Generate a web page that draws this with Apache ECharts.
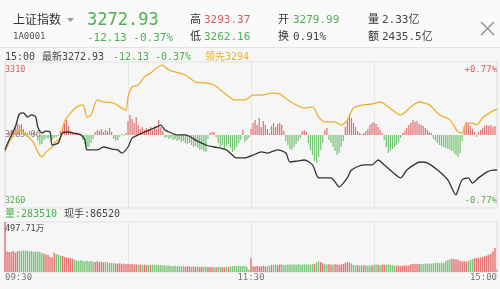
<!DOCTYPE html>
<html><head><meta charset="utf-8">
<script src="https://cdn.jsdelivr.net/npm/echarts@6/dist/echarts.min.js"></script>
<style>html,body{margin:0;padding:0;background:#f6f6f6}#c{width:500px;height:289px}</style>
</head><body><div id="c"></div>
<script>
// ---------- data ----------
const prevClose = 3285.06;
const rangePct = 0.0077;
const priceMinutes = [0,2,5,7,9,11,13,15,16,18,20,22,23,26,28,31,33,37,39,40,45,48,52,55,57,60,62,65,69,73,76,78,80,84,88,93,98,102,108,113,117,121,125,128,133,137,139,143,146,150,153,156,159,161,163,167,169,175,179,182,185,189,193,196,201,203,206,211,216,220,221,223,226,228,231,235,238,240];
const priceValues = [3279.99,3283.3,3287.8,3292.3,3292.7,3291.3,3292.0,3291.3,3287.8,3285.8,3286.4,3286.1,3281.6,3282.3,3285.8,3286.1,3285.8,3285.1,3283.3,3279.9,3279.9,3280.9,3280.2,3279.9,3278.8,3280.9,3284.0,3285.1,3286.4,3287.5,3288.5,3286.8,3286.1,3285.1,3285.1,3283.3,3281.6,3280.9,3279.9,3277.1,3277.1,3278.1,3279.2,3278.8,3279.9,3278.8,3275.7,3276.1,3276.4,3274.7,3270.2,3270.2,3270.2,3268.8,3267.1,3270.2,3272.9,3274.7,3274.7,3276.4,3274.7,3272.2,3270.2,3272.9,3275.4,3275.7,3275.4,3272.9,3269.5,3264.3,3266.0,3269.5,3270.2,3268.4,3270.2,3272.2,3272.9,3272.93];
const leadMinutes = [0,2,5,7,10,12,14,16,18,20,23,24,27,29,32,35,38,39,40,42,45,48,53,56,59,60,62,65,68,71,74,77,78,80,83,88,93,98,102,107,112,117,121,125,130,134,138,142,146,150,153,156,161,164,167,170,175,179,183,187,193,198,202,207,212,217,221,223,225,228,230,233,238,240];
const leadValues = [3279.2,3282.6,3285.8,3286.8,3285.1,3284.0,3282.3,3279.2,3277.4,3279.2,3280.9,3282.3,3284.0,3289.6,3292.7,3294.8,3295.5,3293.7,3291.3,3292.0,3297.2,3296.5,3296.1,3294.8,3293.7,3298.2,3301.7,3302.4,3305.2,3306.5,3308.3,3309.3,3308.6,3307.6,3306.9,3305.8,3303.4,3303.1,3302.4,3299.6,3297.2,3297.2,3298.9,3298.9,3299.6,3299.3,3297.2,3295.5,3294.4,3294.8,3291.3,3289.6,3289.6,3288.5,3290.3,3294.4,3295.5,3295.8,3296.5,3294.8,3292.0,3294.8,3296.5,3295.5,3292.0,3290.3,3286.1,3285.8,3289.2,3289.2,3288.5,3291.0,3293.4,3294.0];
const diffValues = [
 0,2,3,4,5, 8,12,10,11,6, 3,2,4,2,3,1, -6,-10,-9,-5, -3,-4,-2,-5,-3,-2,-1,
 4,8,12,15,9, 4,3,2,3,2,1, -5,-9,-13,-12,-8,-4, 3,5,4,6,3,5,4, 7,3, -4,-6,-5,-2, 1,-1,2,
 14,20,16,12,18, 10,6,8,5,7,6,8,5,9,6,15, 8,4, -3,-2,-4,-3,-5,-4,-6,
 -5,-7,-6,-8,-9,-8,-10,-12,-11,-13,-15,-14,-16,-17, -4,2, 3,3,-2,
 -8,-12,-10,-14,-11,-9,-13,-17,-15,-12,-8,-5, 5, -7,-5,-3,
 6,12,15,10,17,8,14,10,6, 2, 9,12,8,11,12,10,4, -6,-10,-14,-15,-12,-9,-6,-3, 4,5,3,
 -8,-15,-20,-26,-28,-22,-15,-8, 5,7, -5,-8,-12,-16,-20,-18,-12,-6,
 8,14,20,17,12,8,4, 2,1,2, 4,6,10,12,13,11,8,5,2, -5,-12,-18,-16,-14,-12,-10,-7,-3,
 2,4,7,10,12,15,13,14,11,10,9,7,5,3,2, -4,-6,-8,-10,-11,-12,-13,-14,-15,-16,-18,-20,-22,-18,-6,
 8,13,11,9,6,3,-2, 3,5,7,9,10,9,10,8,9,0];
const volValues = [497.71,
 205,200,198,210,195,205,212,208,215,
 210,214,205,208,200,206,198,202,190,185,
 172,168,150,145,195,178,172,165,160,150,
 145,140,138,132,120,115,112,118,110,108,
 112,105,110,103,100,106,98,102,96,100,
 95,90,92,88,85,82,86,80,84,78,
 80,76,82,74,78,72,75,70,73,68,
 72,70,74,68,71,66,70,65,68,62,
 64,60,58,62,56,58,55,60,54,57,
 55,52,56,50,54,48,52,50,55,49,
 52,48,50,46,53,49,51,47,52,50,
 55,58,60,56,62,58,63,60,52,23,
 139,58,55,60,54,57,62,56,60,58,
 70,72,75,68,74,76,70,73,75,72,
 74,76,72,78,75,73,77,74,76,72,
 78,80,95,106,100,88,76,74,78,72,
 75,78,74,72,76,80,92,100,96,84,
 70,66,68,64,67,65,68,63,66,64,
 72,75,73,70,74,71,73,76,72,70,
 65,62,64,60,63,66,62,64,78,80,
 82,79,83,80,78,84,81,85,82,88,
 90,92,88,94,90,110,118,126,133,130,
 128,122,110,106,108,104,110,120,130,136,
 139,142,145,150,158,165,172,180,205,239,23];
const volColors = "rrrrrrrggg"+"gggggggggr"+"rrrrrgggrr"+"rrrrgggggg"+"ggggrrrrrg"+"ggggrrrrrr"+"rrrrrgrgrr"+"grgggggggg"+"ggggggggrr"+"rgrrgrrggr"+"rrgrggrrgr"+"gggggggggg"+"rrrrrrrrgg"+"rggrrggggg"+"gggggggggg"+"grggrrggrr"+"grrrrrrrrg"+"ggrggrgggr"+"ggrgrrgggg"+"grrrrrrrrr"+"rrrggggggg"+"ggggggggrr"+"rrrrrrgggr"+"rrrrrrrrrr"+"g";
const timeTicks = [0,120,240];
const timeLabels = ["09:30","11:30","15:00"];
const volMaxLabel = "497.71万";

// ---------- style ----------
const MONO = '"DejaVu Sans Mono","Noto Sans CJK SC",monospace';
const RED = '#e05a5a', GREEN = '#4caf50', DARK = '#444', GRAY = '#888';
const BARRED = '#e07070', BARGREEN = '#72c272';
const VOLRED = '#e27272', VOLGREEN = '#78c478';
const ORANGE = '#efb030';
const lo = prevClose * (1 - rangePct), hi = prevClose * (1 + rangePct);

const chart = echarts.init(document.getElementById('c'), null, {renderer:'canvas'});
const option = {
  animation:false,
  backgroundColor:'#f6f6f6',
  grid:[
    {left:5,right:3,top:62,height:146,show:true,borderColor:'#e2e2e2',borderWidth:1,backgroundColor:'transparent'},
    {left:5,right:3,top:222,height:50,show:true,borderColor:'#e2e2e2',borderWidth:1,backgroundColor:'transparent'}
  ],
  xAxis:[
    {type:'value',gridIndex:0,min:0,max:240,interval:60,axisLine:{show:false},axisTick:{show:false},axisLabel:{show:false},splitLine:{show:true,lineStyle:{color:'#e6e6e6',width:1}}},
    {type:'value',gridIndex:1,min:0,max:240,interval:60,axisLine:{show:false},axisTick:{show:false},axisLabel:{show:false},splitLine:{show:true,lineStyle:{color:'#e6e6e6',width:1}}}
  ],
  yAxis:[
    {type:'value',gridIndex:0,min:lo,max:hi,show:false},
    {type:'value',gridIndex:0,min:-73,max:73,show:false},
    {type:'value',gridIndex:1,min:0,max:497.71,show:false}
  ],
  series:[
    {type:'bar',xAxisIndex:0,yAxisIndex:1,barWidth:1.2,z:2,
     data:diffValues.map((v,i)=>[i,v]),
     itemStyle:{color:p=>p.value[1]>=0?BARRED:BARGREEN}},
    {type:'line',xAxisIndex:0,yAxisIndex:0,z:3,symbol:'none',smooth:0.25,
     data:leadMinutes.map((m,k)=>[m,leadValues[k]]),
     lineStyle:{color:ORANGE,width:1.3}},
    {type:'line',xAxisIndex:0,yAxisIndex:0,z:4,symbol:'none',smooth:0.25,
     data:priceMinutes.map((m,k)=>[m,priceValues[k]]),
     lineStyle:{color:'#333',width:1.3}},
    {type:'bar',xAxisIndex:1,yAxisIndex:2,barWidth:1.4,
     data:volValues.map((v,i)=>({value:[i,v],itemStyle:{color:volColors[i]==='r'?VOLRED:VOLGREEN}}))}
  ]
};
chart.setOption(option);

function T(text,x,y,size,fill,align,z){
  return {type:'text',z:z||10,style:{text:text,x:x,y:y,fill:fill,font:size+'px '+MONO,textAlign:align||'left',textVerticalAlign:'middle'}};
}
const topY = chart.convertToPixel({yAxisIndex:0}, hi);
const botY = chart.convertToPixel({yAxisIndex:0}, lo);
const midY = chart.convertToPixel({yAxisIndex:0}, prevClose);
const volTop = chart.convertToPixel({yAxisIndex:2}, 497.71);
const volBot = chart.convertToPixel({yAxisIndex:2}, 0);
const g = [
  {type:'rect',z:1,shape:{x:0,y:0,width:500,height:47},style:{fill:'#fafafa'}},
  {type:'line',z:1,shape:{x1:0,y1:47.5,x2:500,y2:47.5},style:{stroke:'#e4e4e4',lineWidth:1}},
  T('上证指数',13,21,12,'#333'),
  {type:'polygon',z:10,shape:{points:[[67,18],[74,18],[70.5,22]]},style:{fill:'#999'}},
  T('1A0001',13,37,9,'#555'),
  T('3272.93',87,21,17,GREEN),
  T('-12.13 -0.37%',87,38,11,GREEN),
  T('高',190,20,11,'#333'), T('3293.37',204,20,11,RED),
  T('低',190,37,11,'#333'), T('3262.16',204,37,11,GREEN),
  T('开',278,20,11,'#333'), T('3279.99',293,20,11,GREEN),
  T('换',278,37,11,'#333'), T('0.91%',293,37,11,'#444'),
  T('量',368,20,11,'#333'), T('2.33亿',382,20,11,'#444'),
  T('额',368,37,11,'#333'), T('2435.5亿',382,37,11,'#444'),
  {type:'line',z:10,shape:{x1:481,y1:22,x2:494,y2:35},style:{stroke:'#888',lineWidth:1.2}},
  {type:'line',z:10,shape:{x1:494,y1:22,x2:481,y2:35},style:{stroke:'#888',lineWidth:1.2}},
  T('15:00',5,57,10,DARK),
  T('最新3272.93',42,57,10,DARK),
  T('-12.13',113,57,10,GREEN),
  T('-0.37%',155,57,10,GREEN),
  T('领先3294',205,57,10,ORANGE),
  T('3310',5,topY+8,8.5,RED),
  T('3260',5,botY-7,8.5,GREEN),
  T('3285.06',5,midY,8.5,GRAY,'left',1),
  T('+0.77%',497,topY+8,9,RED,'right'),
  T('-0.77%',497,botY-7,9,GREEN,'right'),
  T('量:283510',5,214,10,GREEN),
  T('现手:86520',64,214,10,DARK),
  T(volMaxLabel,5,volTop+7,8.5,DARK)
];
timeTicks.forEach((t,k)=>{
  const x = chart.convertToPixel({xAxisIndex:1}, t);
  g.push(T(timeLabels[k],x,volBot+5.5,9,'#777',k===0?'left':(k===timeTicks.length-1?'right':'center')));
});
chart.setOption({graphic:g});
</script></body></html>
